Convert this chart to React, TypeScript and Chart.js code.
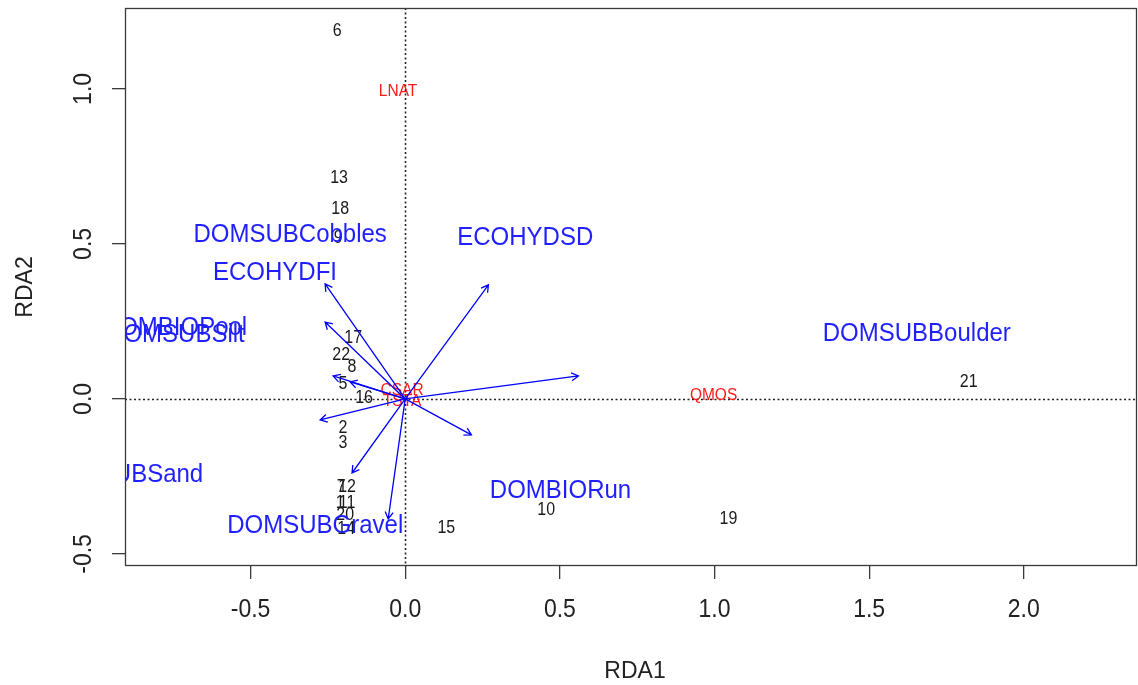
import React, { useEffect, useRef } from "react";
import { Chart, registerables } from "chart.js";

Chart.register(...registerables);

// ---- data ----
const siteLabels = ["6", "13", "18", "9", "17", "22", "8", "5", "16", "2", "3", "7", "12", "1", "11", "20", "14", "15", "10", "19", "21"];
const siteX = [-0.220, -0.214, -0.210, -0.217, -0.168, -0.207, -0.172, -0.201, -0.133, -0.201, -0.201, -0.207, -0.188, -0.210, -0.188, -0.194, -0.191, 0.133, 0.456, 1.045, 1.822];
const siteY = [1.190, 0.716, 0.616, 0.523, 0.200, 0.145, 0.106, 0.052, 0.006, -0.090, -0.139, -0.281, -0.281, -0.332, -0.332, -0.371, -0.416, -0.413, -0.355, -0.384, 0.058];

const speciesLabels = ["LNAT", "CSAR", "TSTA", "QMOS"];
const speciesX = [-0.023, -0.010, -0.010, 0.997];
const speciesY = [0.994, 0.032, -0.003, 0.016];

const arrowX = [-0.259, -0.259, -0.233, -0.178, -0.275, -0.172, -0.055, 0.214, 0.560, 0.269];
const arrowY = [0.371, 0.248, 0.074, 0.055, -0.068, -0.239, -0.387, -0.116, 0.074, 0.368];

const envLabels = ["DOMSUBCobbles", "ECOHYDFI", "DOMBIOPool", "DOMSUBSilt", "DOMSUBSand", "DOMSUBGravel", "DOMBIORun", "ECOHYDSD", "DOMSUBBoulder"];
const envX = [-0.372, -0.421, -0.746, -0.743, -0.914, -0.291, 0.502, 0.388, 1.654];
const envY = [0.532, 0.410, 0.232, 0.210, -0.242, -0.406, -0.294, 0.523, 0.213];

const xTickVals = [-0.5, 0.0, 0.5, 1.0, 1.5, 2.0];
const yTickVals = [-0.5, 0.0, 0.5, 1.0];
const xTitle = "RDA1";
const yTitle = "RDA2";

const xMin = -0.906;
const xMax = 2.366;
const yMin = -0.539;
const yMax = 1.261;

const FONT = 'Arial, "Liberation Sans", Helvetica, sans-serif';

function drawText(
  ctx: CanvasRenderingContext2D,
  text: string,
  x: number,
  y: number,
  size: number,
  color: string,
  sy: number,
  rot = 0
) {
  ctx.save();
  ctx.translate(x, y);
  if (rot) ctx.rotate(rot);
  ctx.scale(1, sy);
  ctx.font = `${size}px ${FONT}`;
  ctx.fillStyle = color;
  ctx.textAlign = "center";
  ctx.textBaseline = "middle";
  ctx.fillText(text, 0, 0);
  ctx.restore();
}

const biplotPlugin = {
  id: "biplot",
  afterDatasetsDraw(chart: any) {
    const { ctx, chartArea: ca, scales } = chart;
    const xs = scales.x;
    const ys = scales.y;
    const px = (v: number) => xs.getPixelForValue(v);
    const py = (v: number) => ys.getPixelForValue(v);

    ctx.save();
    ctx.beginPath();
    ctx.rect(ca.left, ca.top, ca.right - ca.left, ca.bottom - ca.top);
    ctx.clip();

    // dotted zero lines
    ctx.strokeStyle = "#222222";
    ctx.lineWidth = 1.6;
    ctx.setLineDash([2, 2.5]);
    ctx.beginPath();
    ctx.moveTo(ca.left, Math.round(py(0)) + 0.5);
    ctx.lineTo(ca.right, Math.round(py(0)) + 0.5);
    ctx.moveTo(Math.round(px(0)) + 0.5, ca.top);
    ctx.lineTo(Math.round(px(0)) + 0.5, ca.bottom);
    ctx.stroke();
    ctx.setLineDash([]);

    // site labels
    const meta = chart.getDatasetMeta(0);
    meta.data.forEach((el: any, i: number) => {
      drawText(ctx, siteLabels[i], el.x, el.y + 1, 16, "#1a1a1a", 1.1);
    });

    // species labels
    speciesLabels.forEach((s, i) => {
      drawText(ctx, s, px(speciesX[i]), py(speciesY[i]) + 1, 15.5, "#ff1a1a", 1.1);
    });

    // arrows
    const ox = px(0);
    const oy = py(0);
    ctx.strokeStyle = "#0000ff";
    ctx.lineWidth = 1.3;
    arrowX.forEach((ax, i) => {
      const tx = px(ax);
      const ty = py(arrowY[i]);
      ctx.beginPath();
      ctx.moveTo(ox, oy);
      ctx.lineTo(tx, ty);
      const ang = Math.atan2(ty - oy, tx - ox);
      const hl = 8;
      const ha = Math.PI / 6;
      ctx.moveTo(tx - hl * Math.cos(ang - ha), ty - hl * Math.sin(ang - ha));
      ctx.lineTo(tx, ty);
      ctx.lineTo(tx - hl * Math.cos(ang + ha), ty - hl * Math.sin(ang + ha));
      ctx.stroke();
    });

    // environmental labels
    envLabels.forEach((s, i) => {
      drawText(ctx, s, px(envX[i]), py(envY[i]) + 1, 24, "#1f1fff", 1.05);
    });

    ctx.restore();

    // frame
    ctx.save();
    ctx.strokeStyle = "#3a3a3a";
    ctx.lineWidth = 1.3;
    ctx.strokeRect(ca.left + 0.5, ca.top + 0.5, ca.right - ca.left - 1, ca.bottom - ca.top - 1);
    ctx.restore();

    // tick labels
    xs.ticks.forEach((t: any) => {
      drawText(ctx, t.value.toFixed(1), px(t.value), ca.bottom + 44, 23, "#222222", 1.1);
    });
    ys.ticks.forEach((t: any) => {
      drawText(ctx, t.value.toFixed(1), ca.left - 40.5, py(t.value), 23, "#222222", 1.1, -Math.PI / 2);
    });

    // axis titles
    drawText(ctx, xTitle, (ca.left + ca.right) / 2 + 4, ca.bottom + 105, 23, "#222222", 1.08);
    drawText(ctx, yTitle, 25, (ca.top + ca.bottom) / 2, 23, "#222222", 1.08, -Math.PI / 2);
  },
};

export default function App() {
  const canvasRef = useRef<HTMLCanvasElement | null>(null);

  useEffect(() => {
    if (!canvasRef.current) return;
    const chart = new Chart(canvasRef.current, {
      type: "scatter",
      data: {
        datasets: [
          {
            label: "sites",
            data: siteX.map((x, i) => ({ x, y: siteY[i] })),
            pointRadius: 0,
            pointHoverRadius: 0,
          },
        ],
      },
      options: {
        animation: false,
        responsive: true,
        maintainAspectRatio: false,
        events: [],
        layout: { padding: { top: 8, right: 1, left: 0, bottom: 0 } },
        plugins: {
          legend: { display: false },
          tooltip: { enabled: false },
          title: { display: false },
        },
        scales: {
          x: {
            type: "linear",
            min: xMin,
            max: xMax,
            afterBuildTicks: (s: any) => {
              s.ticks = xTickVals.map((v) => ({ value: v }));
            },
            afterFit: (s: any) => {
              s.height = 119;
            },
            ticks: { display: false },
            grid: {
              drawOnChartArea: false,
              drawTicks: true,
              tickLength: 13,
              color: "#3a3a3a",
              lineWidth: 1.3,
            },
            border: { display: false },
          },
          y: {
            type: "linear",
            min: yMin,
            max: yMax,
            afterBuildTicks: (s: any) => {
              s.ticks = yTickVals.map((v) => ({ value: v }));
            },
            afterFit: (s: any) => {
              s.width = 125;
            },
            ticks: { display: false },
            grid: {
              drawOnChartArea: false,
              drawTicks: true,
              tickLength: 13,
              color: "#3a3a3a",
              lineWidth: 1.3,
            },
            border: { display: false },
          },
        },
      },
      plugins: [biplotPlugin],
    });
    return () => chart.destroy();
  }, []);

  return (
    <div style={{ position: "absolute", left: 0, top: 0, width: 1138, height: 685, background: "#ffffff" }}>
      <canvas ref={canvasRef} />
    </div>
  );
}
